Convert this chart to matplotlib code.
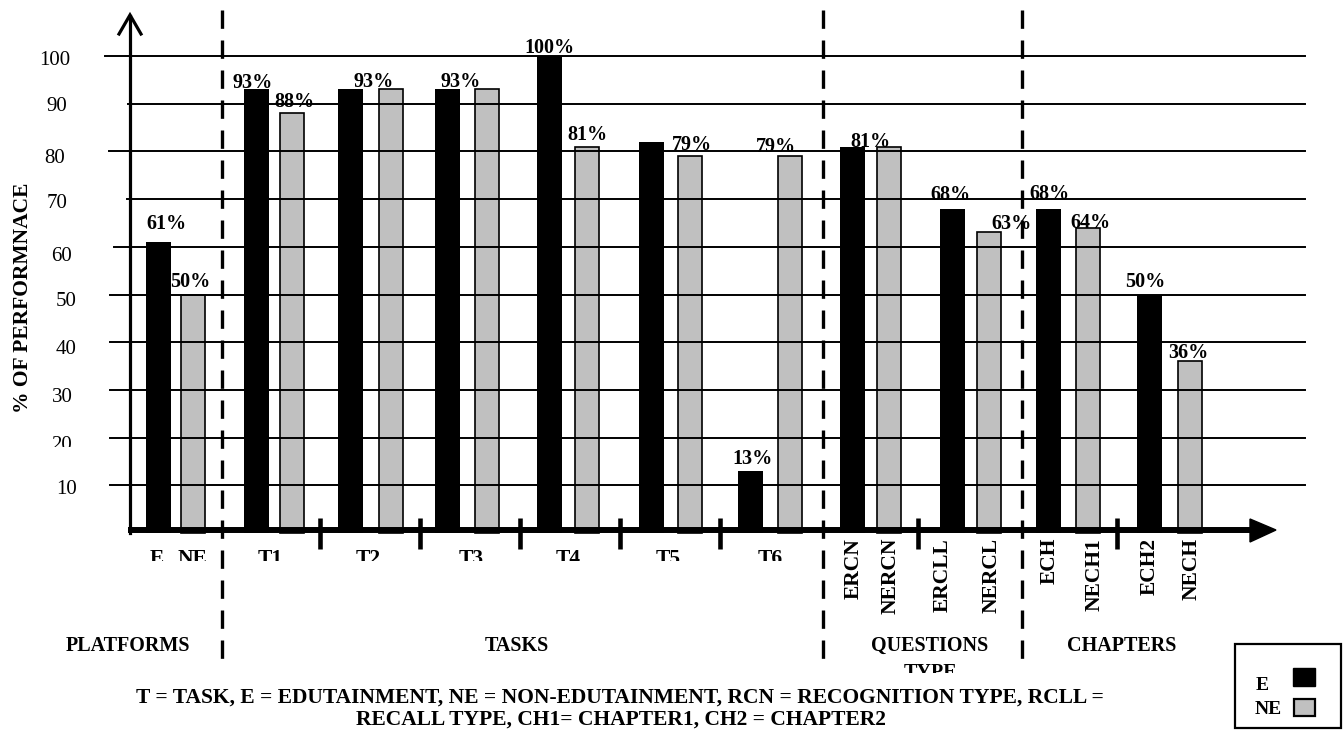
import matplotlib
matplotlib.use('Agg')
import matplotlib.pyplot as plt
from matplotlib.patches import Polygon, Rectangle
from matplotlib.transforms import Bbox, TransformedBbox

plt.rcParams['font.family'] = ['Liberation Serif', 'DejaVu Serif']

# ---- data: % of performance, edutainment (E) vs non-edutainment (NE)
groups = ['PLATFORMS', 'T1', 'T2', 'T3', 'T4', 'T5', 'T6', 'RCN', 'RCLL', 'CH1', 'CH2']
edu = [61, 93, 93, 93, 100, 82, 13, 81, 68, 68, 50]
non_edu = [50, 88, 93, 93, 81, 79, 79, 81, 63, 64, 36]
edu_labelled = [1, 1, 1, 1, 1, 0, 1, 1, 1, 1, 1]
non_edu_labelled = [1, 1, 0, 0, 1, 1, 1, 0, 1, 1, 1]
yticks = [10, 20, 30, 40, 50, 60, 70, 80, 90, 100]

flat_labels = ['E', 'NE', 'T1', 'T2', 'T3', 'T4', 'T5', 'T6']
upright_labels = ['ERCN', 'NERCN', 'ERCLL', 'NERCL', 'ECH', 'NECH1', 'ECH2', 'NECH']
section_labels = ['PLATFORMS', 'TASKS', 'QUESTIONS', 'CHAPTERS']
note = ['T = TASK, E = EDUTAINMENT, NE = NON-EDUTAINMENT, RCN = RECOGNITION TYPE, RCLL =',
        'RECALL TYPE, CH1= CHAPTER1, CH2 = CHAPTER2']

# ---- layout (pixels of a 1343x736 page)
W, H = 1343, 736
Y0, S = 533, 4.77          # pixel row of 0 %, pixels per 1 %
edu_x = [158, 256, 350, 447, 549, 651, 750, 853, 953, 1048, 1149]
non_edu_x = [193, 292, 391, 487, 587, 690, 790, 889, 989, 1088, 1190]
BAR_W = 25
edu_dx = [8, -3, 24, 14, 0, 0, 3, 17, -3, 1, -4]
edu_gap = [13, 1, 2, 2, 3, 0, 7, 0, 9, 10, 8]
non_dx = [-3, 2, 0, 0, 0, 2, -14, 0, 22, 2, -2]
non_gap = [8, 6, 0, 0, 7, 6, 4, 0, 3, 0, 3]
grid_left = [110, 110, 110, 110, 110, 114, 127, 109, 128, 105]
ytick_x = [67, 62, 62, 66, 66, 62, 57, 55, 57, 55]
ytick_drop = [9, 12, 12, 12, 12, 14, 9, 12, 7, 9]
flat_x = [157, 192, 270, 368, 471, 568, 668, 770]
upright_x = [854, 891, 943, 992, 1050, 1095, 1150, 1192]
section_x = [128, 517, 930, 1122]
separators = [320, 420, 520, 620, 720, 918, 1117]
dashed = [(222, 668), (823, 660), (1022, 668)]


def px(p):
    return p / 100.0


def py(p):
    return (Y0 - p) / S


fig = plt.figure(figsize=(W / 100, H / 100), dpi=100)
ax = fig.add_axes([0, 0, 1, 1])
ax.set_xlim(0, px(W))
ax.set_ylim(py(H), py(0))
ax.axis('off')

# bars
ax.bar([px(x) for x in edu_x], edu, width=px(BAR_W), color='black', zorder=2)
ax.bar([px(x) for x in non_edu_x], non_edu, width=px(BAR_W - 1), color='#c0c0c0',
       edgecolor='black', linewidth=1.2, zorder=2)

# horizontal grid lines, drawn over the bars
for v, left in zip(yticks, grid_left):
    ax.plot([px(left), px(1305)], [v, v], color='black', lw=1.4, zorder=3)

# value labels
for x, v, on, dx, gap in zip(edu_x, edu, edu_labelled, edu_dx, edu_gap):
    if on:
        ax.annotate(f'{v}%', (px(x), v), xytext=(dx * 0.72, gap * 0.72),
                    textcoords='offset points', ha='center', va='baseline',
                    fontsize=14.5, fontweight='bold', zorder=6)
for x, v, on, dx, gap in zip(non_edu_x, non_edu, non_edu_labelled, non_dx, non_gap):
    if on:
        ax.annotate(f'{v}%', (px(x), v), xytext=(dx * 0.72, gap * 0.72),
                    textcoords='offset points', ha='center', va='baseline',
                    fontsize=14.5, fontweight='bold', zorder=6)

# y axis with open arrow head
ax.plot([px(130), px(130)], [0, py(16)], color='black', lw=2.3, zorder=4)
ax.plot([px(119), px(130), px(141)], [py(34), py(15), py(34)], color='black',
        lw=2.3, solid_joinstyle='miter', zorder=4)

# x axis with solid arrow head
ax.plot([px(128), px(1255)], [py(530), py(530)], color='black', lw=4.3,
        solid_capstyle='butt', zorder=4)
ax.add_patch(Polygon([(px(1250), py(519)), (px(1276), py(530)), (px(1250), py(542))],
                     closed=True, color='black', zorder=4))
for x in separators:
    ax.plot([px(x), px(x)], [py(518), py(549)], color='black', lw=3.3,
            solid_capstyle='butt', zorder=4)

# section dividers
for x, bottom in dashed:
    ax.plot([px(x), px(x)], [py(10), py(bottom)], color='black', lw=2.4,
            linestyle=(0, (5.5, 3.5)), zorder=5)


def clipped(t, bottom):
    box = TransformedBbox(Bbox([[0, py(bottom)], [px(W), py(0)]]), ax.transData)
    t.set_clip_box(box)
    t.set_clip_on(True)


# y tick labels
for v, x, d in zip(yticks, ytick_x, ytick_drop):
    t = ax.text(px(x), py(Y0 - v * S + d), str(v), ha='center', va='baseline',
                fontsize=15)
    if v == 20:
        clipped(t, 447)

ax.text(px(23), py(298), '% OF PERFORMNACE', rotation=90, ha='center', va='center',
        fontsize=15.5, fontweight='bold')

# category labels under the axis
for lab, x in zip(flat_labels, flat_x):
    t = ax.text(px(x), py(564), lab, ha='center', va='baseline', fontsize=15.5,
                fontweight='bold')
    clipped(t, 561)
for lab, x in zip(upright_labels, upright_x):
    ax.text(px(x), py(538), lab, rotation=90, ha='center', va='top', fontsize=15.5,
            fontweight='bold')

for lab, x in zip(section_labels, section_x):
    ax.text(px(x), py(646), lab, ha='center', va='center', fontsize=14.5,
            fontweight='bold')
t = ax.text(px(930), py(663), 'TYPE', ha='center', va='top', fontsize=14.5,
            fontweight='bold')
clipped(t, 673)

ax.text(px(620), py(698), note[0], ha='center', va='center', fontsize=15.5,
        fontweight='bold')
ax.text(px(621), py(720), note[1], ha='center', va='center', fontsize=15.5,
        fontweight='bold')

# legend box
ax.add_patch(Rectangle((px(1235), py(728)), px(106), py(644) - py(728), fill=False,
                       edgecolor='black', lw=1.6, zorder=6))
ax.add_patch(Rectangle((px(1293), py(686)), px(22), py(668) - py(686),
                       facecolor='black', edgecolor='black', lw=1, zorder=6))
ax.add_patch(Rectangle((px(1294), py(716)), px(21), py(699) - py(716),
                       facecolor='#c0c0c0', edgecolor='black', lw=1.6, zorder=6))
ax.text(px(1262), py(685), 'E', ha='center', va='center', fontsize=14,
        fontweight='bold')
ax.text(px(1268), py(710), 'NE', ha='center', va='center', fontsize=14,
        fontweight='bold')

fig.savefig('out.png', dpi=100)
